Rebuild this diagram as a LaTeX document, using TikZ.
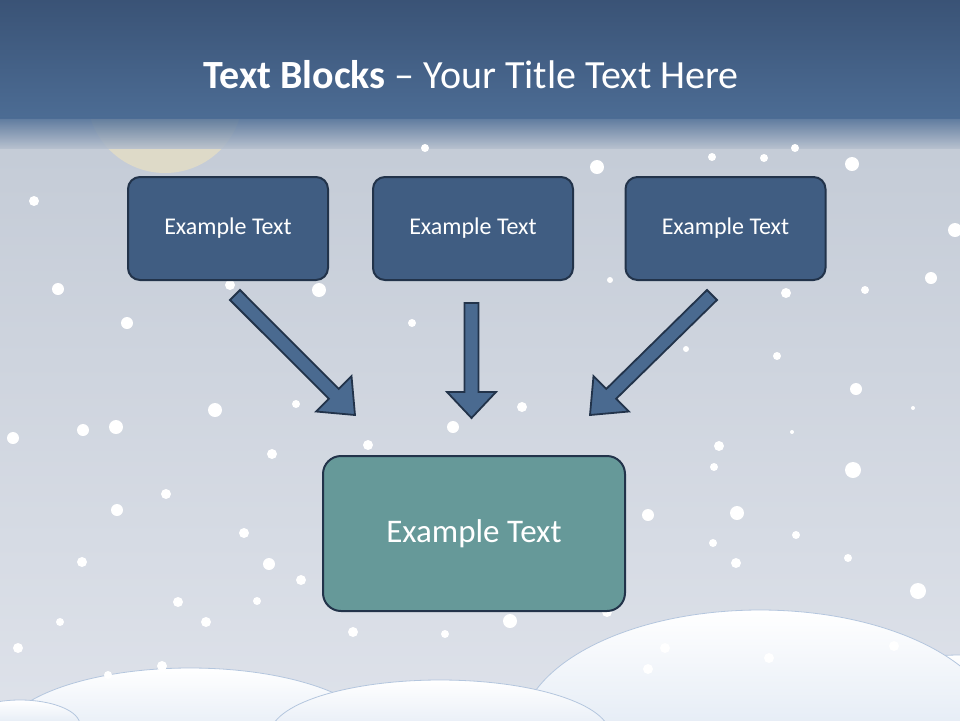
\documentclass[tikz,border=0pt]{standalone}
\usepackage{fontspec}
\setmainfont{Carlito}
\definecolor{boxblue}{HTML}{405D82}
\definecolor{boxteal}{HTML}{669999}
\definecolor{arrowblue}{HTML}{4A6A90}
\definecolor{edgec}{HTML}{22334A}
\definecolor{bgtop}{RGB}{190,198,210}
\definecolor{bgbot}{RGB}{222,226,234}
\definecolor{moonc}{RGB}{222,218,200}
\definecolor{bandtop}{RGB}{58,83,118}
\definecolor{bandbot}{RGB}{76,108,148}
\definecolor{bandfade}{RGB}{180,190,205}
\definecolor{snowbot}{RGB}{200,215,235}
\definecolor{snowedge}{RGB}{180,198,222}
\begin{document}
\begin{tikzpicture}[x=0.5pt,y=-0.5pt,
  topbox/.style={draw=edgec,line width=1pt,fill=boxblue,rounded corners=6pt,minimum width=100pt,minimum height=51.5pt,text=white,font=\fontsize{12}{14}\selectfont},
  bigbox/.style={draw=edgec,line width=1pt,fill=boxteal,rounded corners=9pt,minimum width=151pt,minimum height=77.5pt,text=white,font=\fontsize{16.5}{19}\selectfont},
  barrow/.style={draw=edgec,line width=0.9pt,fill=arrowblue,line join=miter},
  flake/.style={fill=white,draw=none},
  hill/.style={top color=white,bottom color=snowbot,draw=snowedge}]
\useasboundingbox (0,0) rectangle (960,720);
\shade[top color=bgtop,bottom color=bgbot] (0,0) rectangle (960,720);
% moon
\fill[moonc] (165,95) circle (78);
% band
\shade[top color=bandtop,bottom color=bandbot] (0,0) rectangle (960,118);
\shade[top color=bandbot,bottom color=bandfade,opacity=0.85] (0,117.5) rectangle (960,148);
% snowflakes
\foreach \x/\y/\r in {34/201/5,58/289/6,127/323/6,13/438/6,83/430/6,116/427/7,215/410/7,166/494/5,117/510/6,272/454/5,244/533/5,269/564/6,178/602/5,206/622/5,257/601/4,301/580/5,353/632/5,412/323/4,319/290/7,296/404/4,368/445/5,453/427/6,522/407/5,597/167/7,425/148/4,712/157/4,764/158/4,795/148/4,852/164/7,955/230/7,931/278/6,865/290/4,786/293/5,777/356/4,686/349/3,856/389/6,719/446/5,714/467/4,853/470/8,737/513/7,648/515/6,713/543/4,796/535/4,848/558/4,918/591/8,736/563/5,607/612/5,510/621/7,445/634/4,82/562/5,18/648/5,60/622/4,913/408/2,792/432/2,610/280/3,230/285/5}
  \fill[flake] (\x,\y) circle (\r);
% snow hills
\begin{scope}
\clip (0,0) rectangle (960,720);
\shade[hill] (960,705) ellipse (120 and 50);
\shade[hill] (760,735) ellipse (240 and 125);
\shade[hill] (190,740) ellipse (190 and 72);
\shade[hill] (440,735) ellipse (170 and 55);
\shade[hill] (20,725) ellipse (60 and 25);
\end{scope}
\foreach \x/\y/\r in {162/666/5,108/675/4,665/648/5,769/658/5,894/646/5,648/669/5}
  \fill[flake] (\x,\y) circle (\r);
% title
\node[text=white,font=\fontsize{20}{24}\selectfont] (title) at (471,75) {\textbf{Text Blocks} – Your Title Text Here};
% boxes
\node[topbox] (b1) at (228,228.5) {Example Text};
\node[topbox] (b2) at (473,228.5) {Example Text};
\node[topbox] (b3) at (725.5,228.5) {Example Text};
\node[bigbox] (b4) at (474,533.5) {Example Text};
% block arrows
\draw[barrow] (230,300) -- (240,290) -- (338.7,388.9) -- (351.5,376.1) -- (355,415) -- (316.1,411.5) -- (328.8,398.7) -- cycle;
\draw[barrow] (464.5,303) -- (478.5,303) -- (478.5,392) -- (496,392) -- (471.5,418) -- (447,392) -- (464.5,392) -- cycle;
\draw[barrow] (707,290) -- (717,300) -- (616.2,398.7) -- (628.9,411.5) -- (590,415) -- (593.5,376.1) -- (606.3,388.9) -- cycle;
\end{tikzpicture}
\end{document}
